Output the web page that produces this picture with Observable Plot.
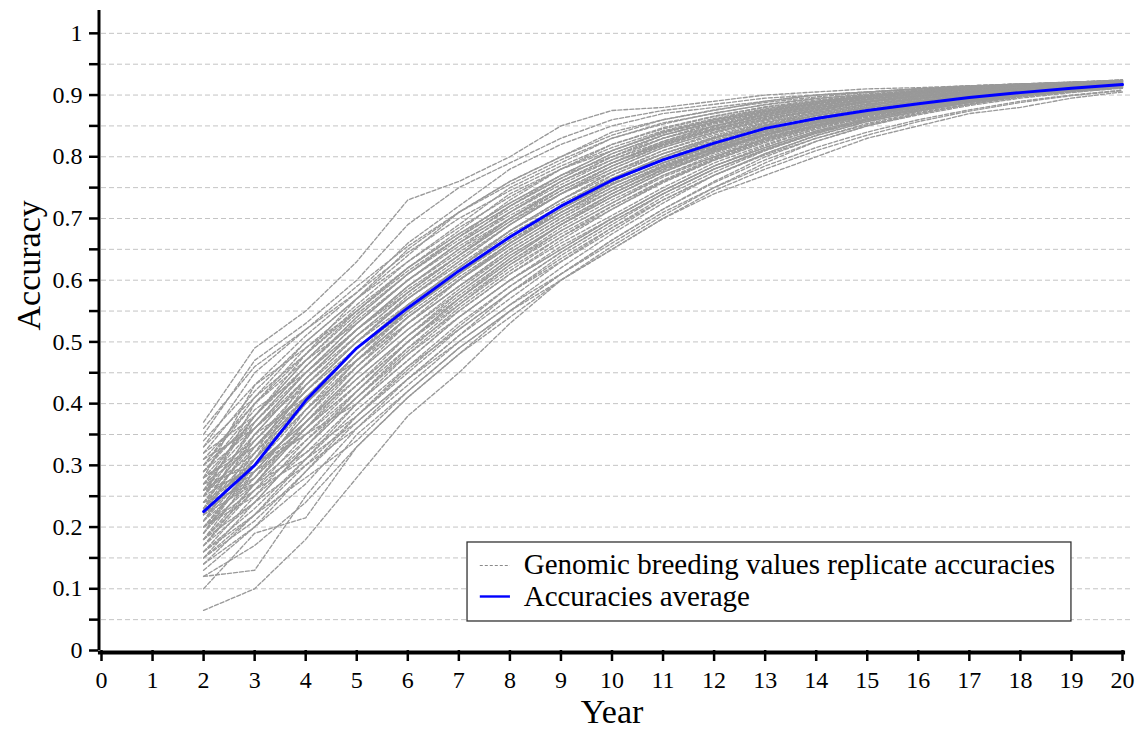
<!DOCTYPE html>
<html>
<head>
<meta charset="utf-8">
<script src="https://cdn.jsdelivr.net/npm/d3@7"></script>
<script src="https://cdn.jsdelivr.net/npm/@observablehq/plot@0.6"></script>
<style>
  html, body { margin: 0; padding: 0; background: #fff; }
  #chart svg { display: block; }
</style>
</head>
<body>
<div id="chart"></div>
<script>
const years = [2,3,4,5,6,7,8,9,10,11,12,13,14,15,16,17,18,19,20];
const xTicks = [0,1,2,3,4,5,6,7,8,9,10,11,12,13,14,15,16,17,18,19,20];
const yTicks = [0,0.05,0.1,0.15,0.2,0.25,0.3,0.35,0.4,0.45,0.5,0.55,0.6,0.65,0.7,0.75,0.8,0.85,0.9,0.95,1];
const gridValues = [0.05,0.1,0.15,0.2,0.25,0.3,0.35,0.4,0.45,0.5,0.55,0.6,0.65,0.7,0.75,0.8,0.85,0.9,0.95,1];

const average = [0.225,0.300,0.405,0.490,0.555,0.615,0.670,0.720,0.762,0.795,0.822,0.846,0.862,0.875,0.886,0.896,0.904,0.911,0.917];

const replicates = [
  [.37,.49,.55,.63,.73,.76,.80,.85,.875,.88,.89,.90,.905,.91,.912,.915,.918,.92,.925],
  [.35,.47,.53,.60,.69,.75,.79,.83,.86,.875,.885,.895,.90,.905,.91,.915,.918,.92,.923],
  [.33,.45,.52,.58,.66,.72,.78,.82,.85,.87,.88,.89,.90,.905,.91,.913,.917,.92,.922],
  [.32,.42,.50,.57,.64,.71,.76,.80,.84,.86,.875,.89,.90,.905,.91,.915,.918,.921,.924],
  [.30,.40,.49,.56,.63,.69,.75,.79,.83,.855,.87,.885,.895,.90,.908,.913,.917,.92,.923],
  [.29,.38,.47,.55,.62,.68,.74,.78,.82,.845,.865,.88,.89,.90,.906,.912,.916,.92,.922],
  [.28,.37,.46,.54,.61,.67,.73,.78,.81,.84,.86,.875,.888,.898,.905,.911,.915,.919,.922],
  [.27,.36,.45,.53,.60,.66,.72,.77,.80,.835,.855,.872,.885,.895,.903,.91,.915,.918,.921],
  [.26,.35,.44,.52,.59,.65,.71,.76,.795,.83,.85,.87,.883,.893,.902,.909,.914,.918,.921],
  [.25,.34,.43,.51,.58,.64,.70,.75,.79,.82,.845,.865,.88,.89,.90,.907,.913,.917,.92],
  [.24,.33,.42,.50,.57,.63,.69,.74,.78,.815,.84,.86,.875,.888,.898,.905,.911,.916,.92],
  [.23,.32,.41,.49,.56,.62,.68,.73,.775,.81,.835,.856,.872,.885,.895,.903,.91,.915,.919],
  [.22,.31,.40,.48,.55,.61,.67,.72,.765,.80,.83,.85,.868,.882,.893,.902,.909,.914,.918],
  [.21,.30,.39,.47,.54,.60,.66,.71,.755,.79,.82,.845,.864,.879,.891,.90,.907,.913,.917],
  [.20,.29,.38,.46,.53,.59,.65,.70,.745,.785,.815,.84,.86,.876,.889,.898,.906,.912,.917],
  [.19,.28,.37,.45,.52,.58,.64,.69,.735,.775,.81,.835,.855,.872,.886,.896,.905,.911,.916],
  [.18,.27,.36,.44,.51,.57,.63,.68,.725,.77,.80,.83,.852,.87,.884,.895,.904,.91,.915],
  [.17,.26,.35,.43,.50,.56,.62,.67,.715,.76,.795,.825,.848,.867,.882,.893,.903,.91,.915],
  [.16,.25,.34,.42,.49,.55,.61,.66,.705,.75,.79,.82,.845,.864,.88,.892,.902,.909,.914],
  [.15,.24,.33,.41,.48,.54,.60,.65,.70,.745,.785,.815,.842,.862,.878,.89,.90,.908,.914],
  [.14,.22,.31,.39,.46,.52,.58,.63,.685,.735,.775,.81,.838,.86,.876,.889,.90,.908,.913],
  [.13,.20,.29,.37,.44,.50,.56,.62,.675,.725,.77,.805,.834,.857,.874,.888,.899,.907,.912],
  [.12,.13,.25,.35,.42,.49,.55,.61,.665,.715,.76,.80,.83,.854,.872,.886,.898,.906,.912],
  [.10,.19,.215,.33,.41,.48,.54,.60,.655,.705,.75,.79,.825,.85,.87,.885,.897,.905,.911],
  [.065,.10,.18,.28,.38,.45,.53,.60,.65,.70,.74,.77,.80,.83,.85,.87,.88,.895,.905],
  [.18,.24,.30,.36,.43,.50,.56,.61,.66,.71,.75,.785,.815,.84,.86,.876,.89,.90,.908],
  [.16,.22,.28,.34,.42,.49,.55,.60,.65,.70,.745,.78,.81,.835,.857,.874,.888,.899,.907],
  [.22,.27,.32,.38,.45,.52,.58,.64,.69,.74,.78,.81,.84,.86,.876,.889,.90,.908,.914],
  [.25,.30,.35,.40,.47,.54,.60,.655,.70,.745,.785,.815,.842,.862,.878,.89,.90,.908,.914],
  [.20,.26,.31,.37,.44,.51,.57,.63,.68,.73,.77,.805,.835,.857,.874,.888,.899,.907,.913],
  [.28,.34,.42,.50,.57,.63,.69,.74,.78,.815,.84,.86,.876,.888,.897,.905,.911,.916,.92],
  [.26,.32,.40,.48,.55,.61,.67,.72,.77,.805,.832,.855,.872,.885,.895,.903,.91,.915,.919],
  [.24,.35,.44,.52,.58,.64,.70,.75,.79,.825,.85,.868,.882,.893,.901,.908,.913,.917,.921],
  [.21,.33,.42,.50,.575,.635,.69,.74,.785,.82,.845,.864,.879,.89,.899,.906,.912,.916,.92],
  [.19,.30,.40,.49,.56,.62,.68,.73,.775,.81,.838,.858,.874,.886,.896,.904,.91,.915,.919],
  [.17,.27,.37,.46,.54,.60,.66,.715,.76,.80,.83,.852,.87,.883,.894,.902,.909,.914,.918],
  [.31,.40,.47,.53,.60,.66,.71,.76,.80,.83,.855,.872,.886,.896,.904,.91,.915,.919,.922],
  [.23,.28,.36,.43,.51,.58,.64,.69,.74,.78,.815,.842,.862,.878,.89,.90,.907,.913,.917],
  [.15,.21,.29,.38,.46,.53,.59,.645,.695,.74,.78,.812,.84,.86,.877,.89,.90,.908,.913],
  [.27,.38,.48,.57,.65,.71,.76,.80,.835,.86,.876,.888,.897,.904,.91,.914,.918,.921,.924],
  [.23,.31,.43,.50,.56,.62,.675,.72,.76,.795,.82,.845,.862,.876,.887,.897,.905,.912,.918],
  [.21,.28,.39,.48,.545,.605,.66,.71,.755,.79,.818,.842,.86,.874,.886,.896,.904,.911,.917],
  [.26,.29,.38,.47,.55,.615,.67,.715,.757,.79,.817,.84,.858,.872,.884,.894,.903,.91,.916],
  [.29,.36,.43,.51,.58,.64,.695,.74,.775,.805,.83,.851,.867,.88,.89,.899,.906,.913,.918],
  [.19,.31,.41,.49,.555,.61,.665,.71,.75,.785,.812,.836,.855,.87,.882,.893,.902,.909,.915],
  [.24,.30,.37,.45,.52,.585,.645,.695,.74,.778,.808,.834,.854,.87,.883,.894,.903,.91,.916],
  [.20,.27,.36,.45,.53,.60,.655,.705,.75,.787,.815,.84,.858,.873,.885,.895,.904,.911,.917],
  [.27,.33,.41,.47,.54,.60,.66,.71,.755,.79,.82,.844,.862,.876,.887,.897,.905,.912,.918],
  [.17,.24,.33,.42,.50,.57,.635,.69,.735,.775,.806,.832,.852,.869,.882,.893,.902,.91,.916],
  [.30,.37,.45,.53,.60,.66,.71,.755,.795,.825,.85,.868,.882,.893,.902,.909,.915,.919,.922],
  [.22,.29,.35,.42,.50,.57,.63,.685,.73,.77,.803,.83,.851,.868,.881,.892,.902,.909,.915],
  [.25,.36,.45,.52,.59,.645,.70,.745,.785,.818,.843,.862,.877,.889,.898,.906,.912,.917,.92],
  [.16,.23,.31,.40,.48,.55,.61,.665,.715,.758,.794,.823,.847,.865,.879,.891,.901,.909,.915],
  [.28,.33,.40,.48,.56,.62,.68,.73,.77,.805,.832,.854,.87,.883,.893,.902,.909,.915,.919],
  [.18,.29,.38,.47,.54,.60,.655,.705,.745,.783,.812,.837,.856,.871,.884,.894,.903,.91,.916],
  [.23,.34,.42,.49,.55,.61,.665,.715,.76,.797,.825,.849,.866,.88,.89,.899,.907,.913,.918],
  [.14,.20,.27,.36,.44,.51,.58,.635,.685,.73,.77,.803,.83,.852,.87,.885,.897,.906,.913],
  [.20,.25,.32,.40,.47,.54,.60,.65,.70,.745,.785,.818,.845,.865,.88,.892,.902,.909,.915],
  [.32,.38,.46,.54,.61,.67,.72,.765,.805,.835,.857,.874,.887,.897,.905,.911,.916,.92,.923],
  [.26,.31,.39,.46,.53,.59,.65,.70,.745,.783,.813,.838,.857,.872,.885,.895,.904,.911,.917],
  [.21,.32,.44,.51,.57,.625,.68,.725,.765,.80,.827,.85,.867,.88,.891,.90,.907,.913,.918],
  [.12,.17,.24,.33,.41,.48,.55,.61,.665,.715,.758,.795,.825,.85,.868,.883,.895,.904,.912],
  [.24,.27,.34,.41,.49,.56,.625,.68,.725,.767,.80,.828,.85,.867,.881,.892,.902,.909,.915],
  [.29,.39,.45,.52,.585,.64,.695,.745,.785,.818,.843,.862,.877,.889,.898,.906,.912,.917,.921],
  [.18,.26,.33,.41,.485,.555,.615,.67,.72,.76,.796,.826,.849,.867,.881,.893,.902,.91,.916],
  [.22,.35,.41,.47,.53,.59,.645,.695,.74,.78,.81,.836,.856,.871,.884,.895,.904,.911,.917],
  [.33,.41,.48,.55,.62,.675,.725,.77,.81,.84,.86,.877,.889,.898,.906,.912,.917,.92,.923],
  [.15,.22,.30,.38,.455,.525,.59,.645,.695,.74,.78,.812,.838,.858,.874,.888,.899,.907,.914],
  [.27,.30,.37,.44,.51,.575,.635,.69,.735,.775,.808,.835,.855,.871,.884,.895,.904,.911,.917],
  [.20,.30,.36,.43,.50,.565,.625,.675,.72,.762,.798,.828,.85,.867,.881,.893,.902,.91,.916],
  [.30,.41,.50,.57,.63,.685,.735,.78,.815,.842,.862,.878,.89,.899,.906,.912,.917,.92,.923],
  [.26,.38,.47,.545,.61,.665,.715,.76,.80,.83,.853,.87,.884,.894,.902,.909,.914,.918,.921],
  [.34,.43,.51,.58,.645,.70,.745,.785,.82,.847,.866,.881,.892,.90,.907,.912,.917,.92,.923],
  [.23,.37,.46,.535,.60,.655,.705,.75,.79,.822,.846,.865,.879,.89,.899,.906,.912,.917,.921],
  [.28,.43,.49,.55,.615,.67,.72,.765,.805,.835,.857,.873,.886,.896,.904,.91,.915,.919,.922],
  [.31,.36,.44,.52,.59,.65,.70,.75,.79,.823,.848,.867,.881,.892,.90,.907,.913,.917,.921],
  [.25,.40,.48,.555,.62,.675,.725,.77,.81,.838,.859,.875,.888,.897,.905,.911,.916,.92,.923],
  [.36,.46,.52,.59,.655,.71,.755,.795,.83,.853,.871,.884,.894,.902,.908,.913,.917,.921,.924]
];

const legendLabels = ["Genomic breeding values replicate accuracies", "Accuracies average"];

const repRows = replicates.flatMap((r, i) => r.map((v, j) => ({rep: i, year: years[j], acc: v})));
const avgRows = average.map((v, j) => ({year: years[j], acc: v}));

const FONT = "'Liberation Serif', 'Times New Roman', serif";
const fmtY = d => (Math.round(d * 100) % 10 === 0 ? String(+d.toFixed(1)) : "");

const plot = Plot.plot({
  width: 1148,
  height: 733,
  marginLeft: 101,
  marginRight: 26,
  marginTop: 10,
  marginBottom: 83,
  style: {fontFamily: FONT, background: "#fff", color: "#000"},
  x: {domain: [0, 20]},
  y: {domain: [0, 1.037]},
  marks: [
    Plot.ruleY(gridValues, {x1: 0, x2: 20.16, stroke: "#c4c4c4", strokeWidth: 1, strokeDasharray: "5,3"}),
    Plot.lineY(repRows, {x: "year", y: "acc", z: "rep", stroke: "#999999", strokeWidth: 1.35, strokeDasharray: "4,2"}),
    Plot.lineY(avgRows, {x: "year", y: "acc", stroke: "#0000ff", strokeWidth: 2.9}),
    // legend box
    Plot.rect([0], {x1: 7.17, x2: 19.0, y1: 0.047, y2: 0.175, fill: "#fff", stroke: "#333", strokeWidth: 1.3}),
    Plot.ruleY([0.1377], {x1: 7.42, x2: 8.01, stroke: "#8a8a8a", strokeWidth: 1.1, strokeDasharray: "3,2"}),
    Plot.ruleY([0.0875], {x1: 7.42, x2: 8.01, stroke: "#0000ff", strokeWidth: 2.4}),
    Plot.text([legendLabels[0]], {x: 8.27, y: 0.139, text: d => d, textAnchor: "start", fontSize: 29, fill: "#000"}),
    Plot.text([legendLabels[1]], {x: 8.27, y: 0.087, text: d => d, textAnchor: "start", fontSize: 29, fill: "#000"}),
    // axes
    Plot.axisY(yTicks, {tickFormat: fmtY, tickSize: 9, dx: -3, tickPadding: 7, fontSize: 24, strokeWidth: 2.5, label: null}),
    Plot.axisX(xTicks, {tickFormat: d => String(d), tickSize: 11, tickPadding: 9, fontSize: 24, strokeWidth: 2.5, label: null}),
    Plot.ruleX([0], {y1: 0, y2: 1.037, dx: -2.5, stroke: "#000", strokeWidth: 3}),
    Plot.ruleY([0], {x1: -0.06, x2: 20.06, dy: 2, stroke: "#000", strokeWidth: 4}),
    // axis titles
    Plot.text(["Year"], {frameAnchor: "bottom", dy: 62, text: d => d, fontSize: 34, lineAnchor: "middle", fill: "#000"}),
    Plot.text(["Accuracy"], {frameAnchor: "left", dx: -72, rotate: -90, text: d => d, fontSize: 34, fill: "#000"})
  ]
});

document.getElementById("chart").appendChild(plot);
</script>
</body>
</html>
